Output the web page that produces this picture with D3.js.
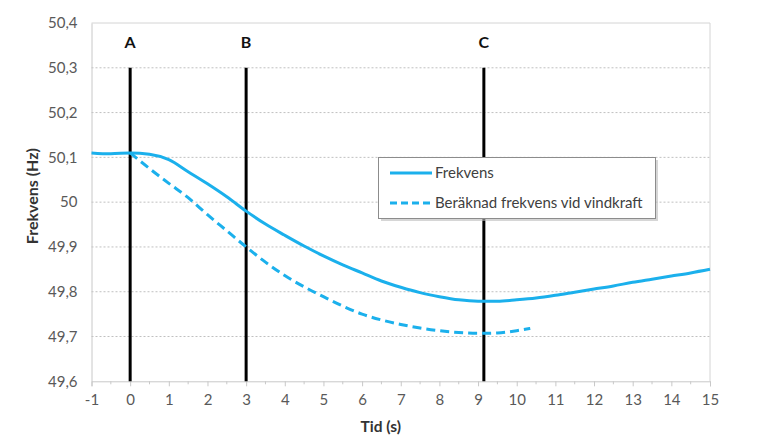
<!DOCTYPE html>
<html><head><meta charset="utf-8">
<script src="https://cdn.jsdelivr.net/npm/d3@7"></script>
<style>
html,body{margin:0;padding:0;background:#fff;}
svg text{font-family:Lato,"Open Sans",sans-serif;}
</style></head>
<body><svg id="c" width="758" height="438"></svg>
<script>
const timeSolid = [-1,-0.5,0,0.5,1,1.5,2,2.5,3,3.5,4,4.5,5,5.5,6,6.5,7,7.5,8,8.5,9,9.5,10,10.5,11,11.5,12,12.5,13,13.5,14,14.5,15];
const frekvens = [50.110,50.108,50.110,50.107,50.095,50.068,50.041,50.012,49.980,49.951,49.926,49.902,49.880,49.860,49.842,49.824,49.810,49.798,49.789,49.782,49.779,49.779,49.782,49.786,49.792,49.799,49.806,49.813,49.821,49.828,49.835,49.842,49.850];
const timeDashed = [0,0.5,1,1.5,2,2.5,3,3.5,4,4.5,5,5.5,6,6.5,7,7.5,8,8.5,9,9.5,10,10.35];
const vindkraft = [50.110,50.075,50.042,50.010,49.972,49.936,49.900,49.866,49.836,49.811,49.789,49.768,49.750,49.737,49.727,49.719,49.713,49.709,49.707,49.708,49.713,49.718];
const markerTimes = [0,3,9.15];
const markerLabels = ["A","B","C"];
const xTicks = [-1,0,1,2,3,4,5,6,7,8,9,10,11,12,13,14,15];
const yTicks = [49.6,49.7,49.8,49.9,50,50.1,50.2,50.3,50.4];
const seriesNames = ["Frekvens","Beräknad frekvens vid vindkraft"];

const svg = d3.select("#c");
const L=91.5, R=710, T=23, B=381.3;
const x = d3.scaleLinear().domain([-1,15]).range([L,R]);
const y = d3.scaleLinear().domain([49.6,50.4]).range([B,T]);
const blue = "#1bb0ec";
const fmt = v => String(+v.toFixed(1)).replace(".",",");

// gridlines
svg.append("g").selectAll("line").data(yTicks.filter(v=>v>49.61&&v<50.39)).join("line")
  .attr("x1",L).attr("x2",R).attr("y1",d=>y(d)).attr("y2",d=>y(d))
  .attr("stroke","#c0c0c0").attr("stroke-width",1).attr("stroke-dasharray","2,2");
// plot border top/right
svg.append("path").attr("d",`M${L},${y(50.4)}H${R}V${B}`).attr("fill","none").attr("stroke","#d4d4d4").attr("stroke-width",1);

// y axis
const yAxis = d3.axisLeft(y).tickValues(yTicks).tickFormat(fmt).tickSize(0).tickPadding(14);
const gy = svg.append("g").attr("transform",`translate(${L},0)`).call(yAxis);
gy.select(".domain").attr("stroke","#c8c8c8");
gy.selectAll("text").attr("font-size",15).attr("fill","#595959");

// x axis
const xAxis = d3.axisBottom(x).tickValues(xTicks).tickFormat(d=>d).tickSize(5).tickPadding(8);
const gx = svg.append("g").attr("transform",`translate(0,${B})`).call(xAxis);
gx.select(".domain").attr("stroke","#c8c8c8");
gx.selectAll(".tick line").attr("stroke","#c8c8c8");
gx.selectAll("text").attr("font-size",15).attr("fill","#595959");
const minor = d3.range(-0.5,15,1);
gx.selectAll(".minor").data(minor).join("line").attr("class","minor")
  .attr("x1",d=>x(d)).attr("x2",d=>x(d)).attr("y1",0).attr("y2",3).attr("stroke","#c8c8c8");

// axis titles
svg.append("text").attr("x",(L+R)/2-20).attr("y",432).attr("text-anchor","middle")
  .attr("font-size",15.5).attr("font-weight","bold").attr("fill","#333").text("Tid (s)");
svg.append("text").attr("transform",`translate(38,${(T+B)/2-6}) rotate(-90)`).attr("text-anchor","middle")
  .attr("font-size",16).attr("font-weight","bold").attr("fill","#333").text("Frekvens (Hz)");

// marker lines
svg.append("g").selectAll("line").data(markerTimes).join("line")
  .attr("x1",d=>x(d)).attr("x2",d=>x(d)).attr("y1",y(50.3)).attr("y2",B)
  .attr("stroke","#000").attr("stroke-width",3);
svg.append("g").selectAll("text").data(markerTimes).join("text")
  .attr("x",d=>x(d)).attr("y",y(50.4)+25).attr("text-anchor","middle")
  .attr("font-size",16).attr("font-weight","bold").attr("fill","#111")
  .text((d,i)=>markerLabels[i]);

// series
const line = d3.line().x(d=>x(d[0])).y(d=>y(d[1])).curve(d3.curveMonotoneX);
svg.append("path").datum(timeSolid.map((t,i)=>[t,frekvens[i]])).attr("d",line)
  .attr("fill","none").attr("stroke",blue).attr("stroke-width",3);
svg.append("path").datum(timeDashed.map((t,i)=>[t,vindkraft[i]])).attr("d",line)
  .attr("fill","none").attr("stroke",blue).attr("stroke-width",3).attr("stroke-dasharray","9,5");

// legend
const lg = svg.append("g");
lg.append("rect").attr("x",381).attr("y",160).attr("width",277).attr("height",61).attr("fill","#bbb").attr("opacity",0.6);
lg.append("rect").attr("x",378.5).attr("y",157.5).attr("width",277).attr("height",61).attr("fill","#fff").attr("stroke","#8c8c8c").attr("stroke-width",1);
const ly = [173,203];
lg.selectAll(".ll").data(seriesNames).join("line").attr("class","ll")
  .attr("x1",390).attr("x2",432).attr("y1",(d,i)=>ly[i]).attr("y2",(d,i)=>ly[i])
  .attr("stroke",blue).attr("stroke-width",3).attr("stroke-dasharray",(d,i)=>i?"7,4":null);
lg.selectAll(".lt").data(seriesNames).join("text").attr("class","lt")
  .attr("x",435).attr("y",(d,i)=>ly[i]).attr("dy","0.35em")
  .attr("font-size",15).attr("fill","#404040").text(d=>d);
</script></body></html>
